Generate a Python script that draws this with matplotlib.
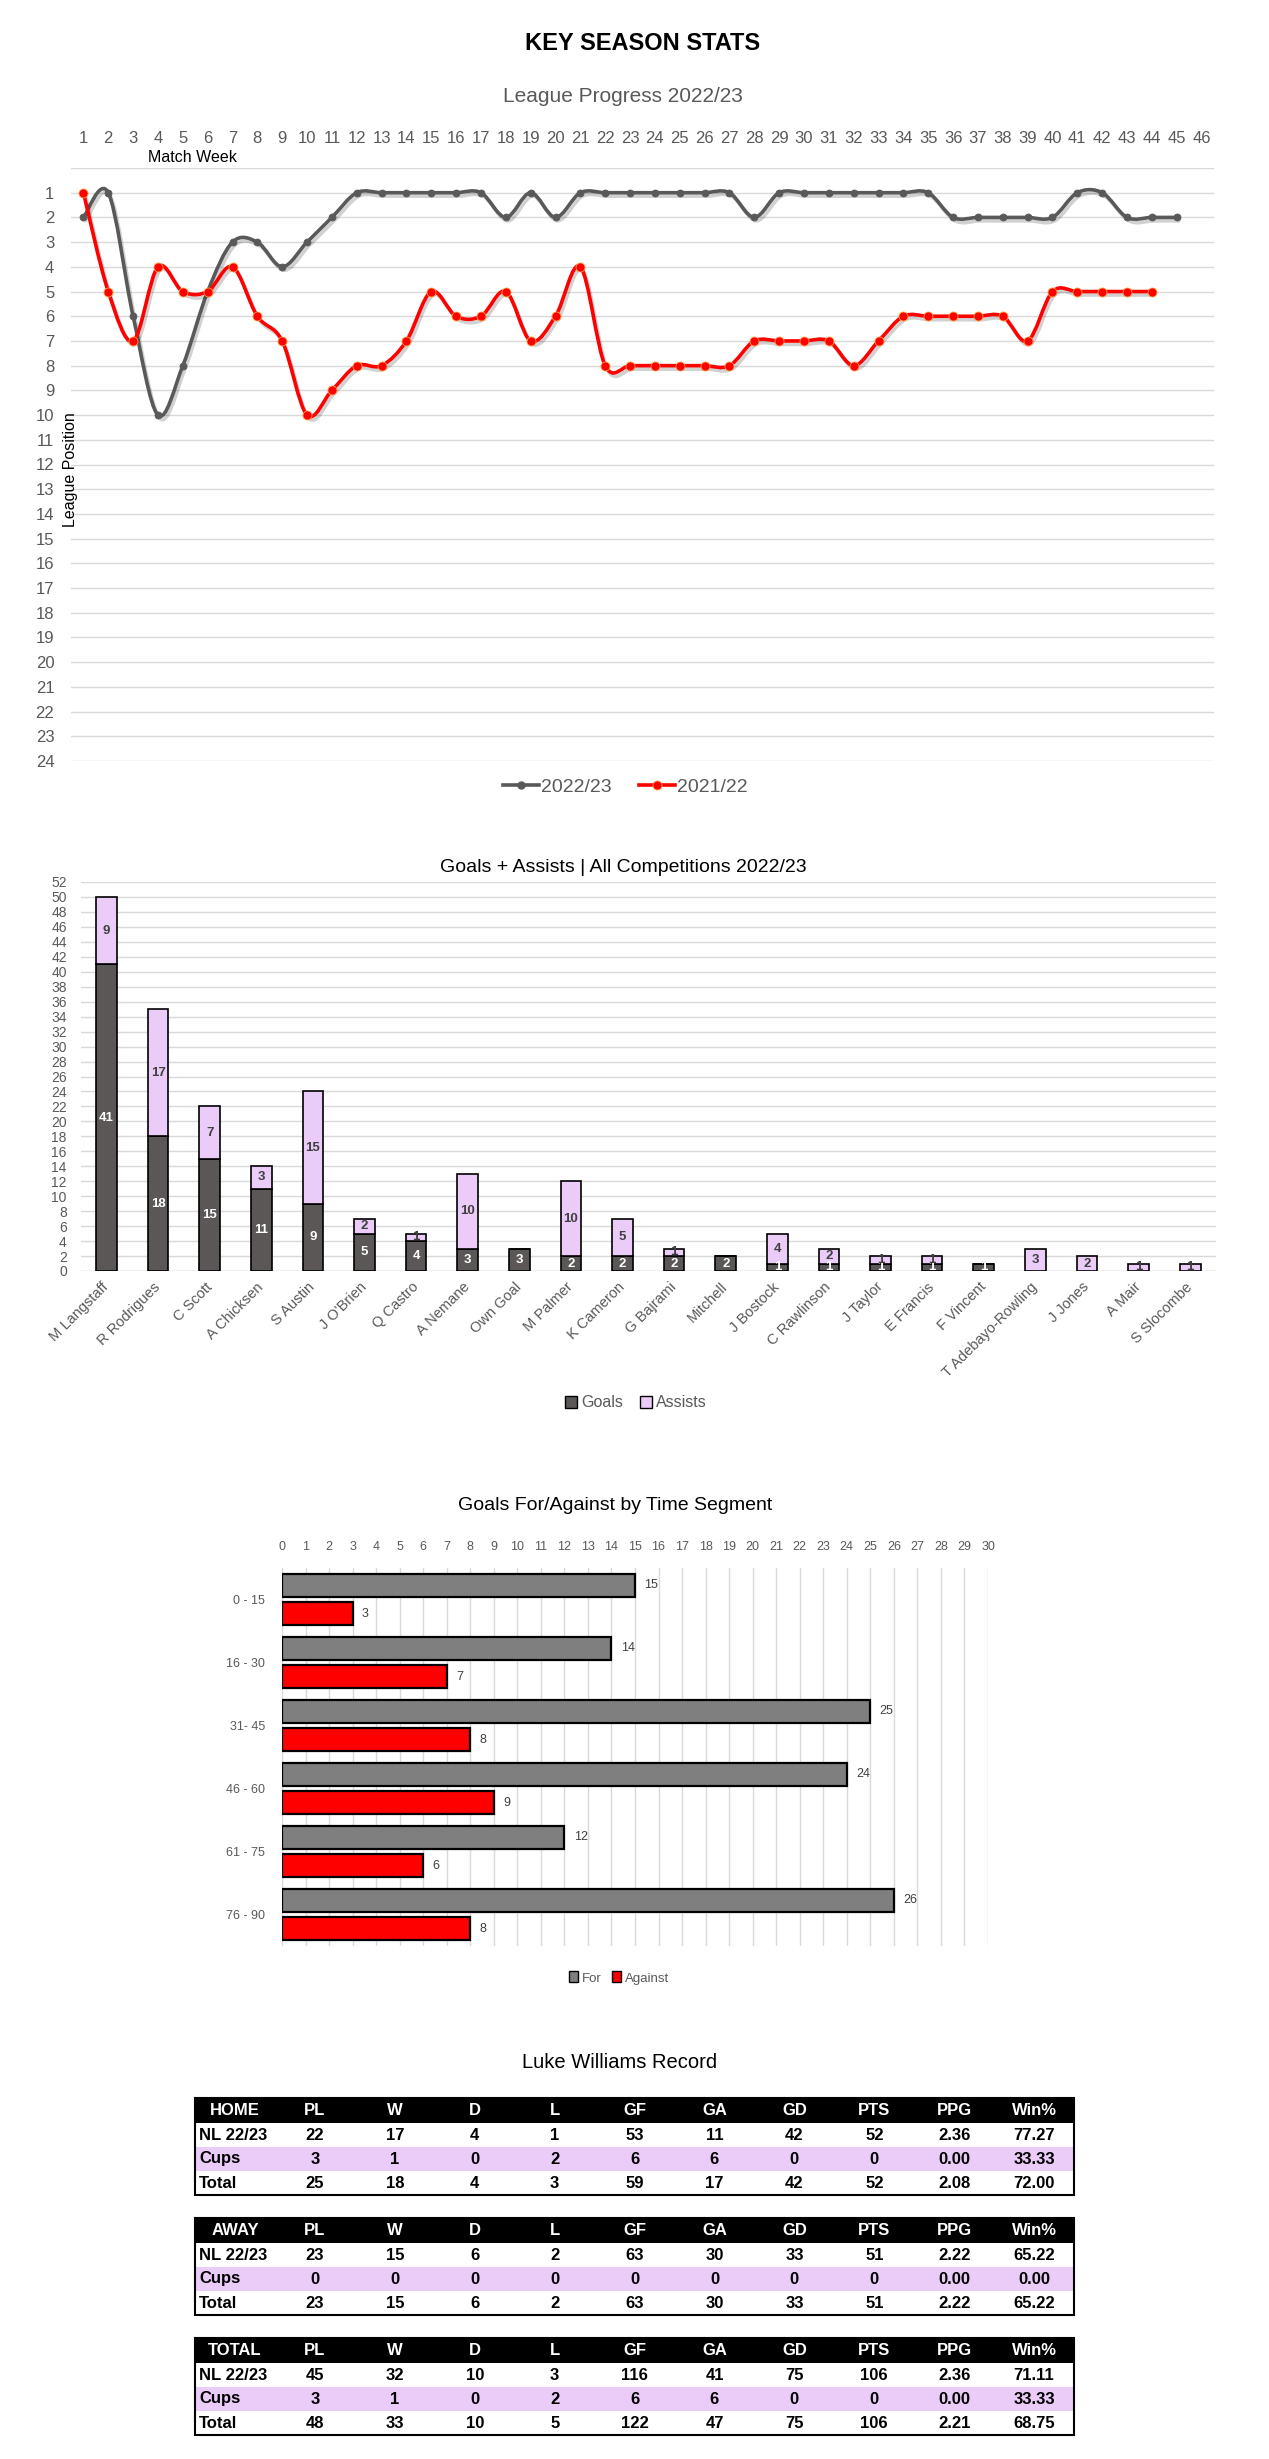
"""Key season stats dashboard: league progress, goals+assists, time segments, manager record."""

import matplotlib.pyplot as plt
import matplotlib.patheffects as pe
from matplotlib.lines import Line2D
from matplotlib.patches import Patch, Rectangle, PathPatch
from matplotlib.path import Path
import numpy as np

plt.rcParams["font.family"] = ["Liberation Sans", "DejaVu Sans"]

W, H = 1269, 2459
GREY_TXT = "#595959"

# ---- league progress ----
weeks_2223 = list(range(1, 46))
pos_2223 = [2, 1, 6, 10, 8, 5, 3, 3, 4, 3, 2, 1, 1, 1, 1, 1, 1, 2, 1, 2, 1, 1, 1,
            1, 1, 1, 1, 2, 1, 1, 1, 1, 1, 1, 1, 2, 2, 2, 2, 2, 1, 1, 2, 2, 2]
weeks_2122 = list(range(1, 45))
pos_2122 = [1, 5, 7, 4, 5, 5, 4, 6, 7, 10, 9, 8, 8, 7, 5, 6, 6, 5, 7, 6, 4, 8, 8,
            8, 8, 8, 8, 7, 7, 7, 7, 8, 7, 6, 6, 6, 6, 6, 7, 5, 5, 5, 5, 5]

# ---- goals + assists ----
players = ["M Langstaff", "R Rodrigues", "C Scott", "A Chicksen", "S Austin",
           "J O'Brien", "Q Castro", "A Nemane", "Own Goal", "M Palmer",
           "K Cameron", "G Bajrami", "Mitchell", "J Bostock", "C Rawlinson",
           "J Taylor", "E Francis", "F Vincent", "T Adebayo-Rowling", "J Jones",
           "A Mair", "S Slocombe"]
goals = [41, 18, 15, 11, 9, 5, 4, 3, 3, 2, 2, 2, 2, 1, 1, 1, 1, 1, 0, 0, 0, 0]
assists = [9, 17, 7, 3, 15, 2, 1, 10, 0, 10, 5, 1, 0, 4, 2, 1, 1, 0, 3, 2, 1, 1]

# ---- time segments ----
segments = ["0 - 15", "16 - 30", "31- 45", "46 - 60", "61 - 75", "76 - 90"]
goals_for = [15, 14, 25, 24, 12, 26]
goals_against = [3, 7, 8, 9, 6, 8]

# ---- record tables ----
rec_cols = ["PL", "W", "D", "L", "GF", "GA", "GD", "PTS", "PPG", "Win%"]
rec_rows = ["NL 22/23", "Cups", "Total"]
home_rec = [[22, 17, 4, 1, 53, 11, 42, 52, 2.36, 77.27],
            [3, 1, 0, 2, 6, 6, 0, 0, 0.00, 33.33],
            [25, 18, 4, 3, 59, 17, 42, 52, 2.08, 72.00]]
away_rec = [[23, 15, 6, 2, 63, 30, 33, 51, 2.22, 65.22],
            [0, 0, 0, 0, 0, 0, 0, 0, 0.00, 0.00],
            [23, 15, 6, 2, 63, 30, 33, 51, 2.22, 65.22]]
total_rec = [[45, 32, 10, 3, 116, 41, 75, 106, 2.36, 71.11],
             [3, 1, 0, 2, 6, 6, 0, 0, 0.00, 33.33],
             [48, 33, 10, 5, 122, 47, 75, 106, 2.21, 68.75]]


def px_axes(fig, left, top, right, bottom):
    return fig.add_axes([left / W, 1 - bottom / H, (right - left) / W, (bottom - top) / H])


def ftext(fig, x, y, s, **kw):
    fig.text(x / W, 1 - y / H, s, **kw)


def smooth_path(xs, ys):
    # Catmull-Rom through the data points, as Bezier segments (like Excel's smoothed line)
    pts = np.column_stack([xs, ys]).astype(float)
    ext = np.vstack([pts[0], pts, pts[-1]])
    verts = [pts[0]]
    codes = [Path.MOVETO]
    for i in range(1, len(ext) - 2):
        p0, p1, p2, p3 = ext[i - 1], ext[i], ext[i + 1], ext[i + 2]
        verts += [p1 + (p2 - p0) / 6, p2 - (p3 - p1) / 6, p2]
        codes += [Path.CURVE4] * 3
    return Path(verts, codes)


def league_chart(fig):
    ax = px_axes(fig, 71, 168, 1214, 761)
    shadow = [pe.SimpleLineShadow(offset=(1.5, -2.5), alpha=0.18), pe.Normal()]
    for xs, ys, col, ms, mec in [(weeks_2223, pos_2223, "#595959", 5, "#595959"),
                                 (weeks_2122, pos_2122, "#FF0000", 6.5, "#FFA040")]:
        patch = PathPatch(smooth_path(xs, ys), fill=False, ec=col, lw=2.6,
                          capstyle="round", joinstyle="round", zorder=3)
        patch.set_path_effects(shadow)
        ax.add_patch(patch)
        ax.plot(xs, ys, "o", ms=ms, color=col, mec=mec, mew=0.6, zorder=4)
    ax.set_xlim(0.5, 46.5)
    ax.set_ylim(24, 0)
    ax.set_yticks(range(0, 25))
    ax.set_yticklabels([""] + [str(i) for i in range(1, 25)])
    ax.xaxis.tick_top()
    ax.set_xticks(range(1, 47))
    ax.tick_params(axis="x", length=0, pad=16, labelsize=12, labelcolor=GREY_TXT)
    ax.tick_params(axis="y", length=0, pad=12, labelsize=12, labelcolor=GREY_TXT)
    ax.grid(axis="y", color="#D9D9D9", lw=1)
    ax.set_axisbelow(True)
    for s in ax.spines.values():
        s.set_visible(False)
    ftext(fig, 192, 157, "Match Week", ha="center", va="center", fontsize=11.5)
    ftext(fig, 71, 470, "League Position", ha="center", va="center",
          rotation=90, fontsize=11.5)
    handles = [Line2D([], [], color="#595959", lw=2.6, marker="o", ms=5),
               Line2D([], [], color="#FF0000", lw=2.6, marker="o", ms=6.5,
                      mec="#FFA040", mew=0.6)]
    fig.legend(handles, ["2022/23", "2021/22"], loc="center", ncol=2,
               bbox_to_anchor=(625 / W, 1 - 787 / H), frameon=False,
               fontsize=14, labelcolor=GREY_TXT, handlelength=1.85,
               handletextpad=0.1, columnspacing=1.4)
    ftext(fig, 623, 97, "League Progress 2022/23", ha="center", va="center",
          fontsize=15, color=GREY_TXT)


def goals_chart(fig):
    ax = px_axes(fig, 80.7, 882, 1216, 1271)
    x = np.arange(len(players))
    ax.bar(x, goals, 0.4, color="#5B5756", ec="black", lw=1.2, zorder=3)
    ax.bar(x, assists, 0.4, bottom=goals, color="#EBCBF8", ec="black", lw=1.2, zorder=3)
    for i, (g, a) in enumerate(zip(goals, assists)):
        if g:
            ax.text(i, g / 2, str(g), ha="center", va="center", color="white",
                    fontsize=9.5, fontweight="bold", zorder=4)
        if a:
            ax.text(i, g + a / 2, str(a), ha="center", va="center", color="#404040",
                    fontsize=9.5, fontweight="bold", zorder=4)
    ax.set_xlim(-0.5, len(players) - 0.5)
    ax.set_ylim(0, 52)
    ax.set_yticks(range(0, 53, 2))
    ax.set_xticks(x)
    ax.set_xticklabels(players, rotation=45, ha="right", va="center",
                       rotation_mode="anchor")
    ax.tick_params(axis="x", length=0, pad=10, labelsize=10.5, labelcolor=GREY_TXT)
    ax.tick_params(axis="y", length=0, pad=10, labelsize=10, labelcolor=GREY_TXT)
    ax.grid(axis="y", color="#D9D9D9", lw=1)
    ax.set_axisbelow(True)
    for s in ax.spines.values():
        s.set_visible(False)
    ax.axhline(0, color="#D9D9D9", lw=1, zorder=1)
    handles = [Patch(fc="#5B5756", ec="black"), Patch(fc="#EBCBF8", ec="black")]
    fig.legend(handles, ["Goals", "Assists"], loc="center", ncol=2,
               bbox_to_anchor=(636 / W, 1 - 1403 / H), frameon=False,
               fontsize=11.5, labelcolor=GREY_TXT, handlelength=0.75,
               handleheight=0.75, handletextpad=0.3, columnspacing=1.0)
    ftext(fig, 623, 867, "Goals + Assists | All Competitions 2022/23",
          ha="center", va="center", fontsize=14)


def segment_chart(fig):
    ax = px_axes(fig, 282, 1568, 988, 1946)
    y = np.arange(len(segments))
    ax.barh(y - 0.225, goals_for, 0.365, color="#7F7F7F", ec="black", lw=1.6, zorder=3)
    ax.barh(y + 0.225, goals_against, 0.365, color="#FF0000", ec="black", lw=1.6, zorder=3)
    for i in range(len(segments)):
        ax.text(goals_for[i] + 0.4, i - 0.225, str(goals_for[i]), va="center",
                fontsize=9, color="#404040")
        ax.text(goals_against[i] + 0.4, i + 0.225, str(goals_against[i]), va="center",
                fontsize=9, color="#404040")
    ax.set_xlim(0, 30)
    ax.set_ylim(len(segments) - 0.5, -0.5)
    ax.xaxis.tick_top()
    ax.set_xticks(range(0, 31))
    ax.set_yticks(y)
    ax.set_yticklabels(segments)
    ax.tick_params(axis="x", length=0, pad=11, labelsize=9, labelcolor=GREY_TXT)
    ax.tick_params(axis="y", length=0, pad=12, labelsize=9, labelcolor=GREY_TXT)
    ax.grid(axis="x", color="#D9D9D9", lw=1)
    ax.set_axisbelow(True)
    for s in ax.spines.values():
        s.set_visible(False)
    handles = [Patch(fc="#7F7F7F", ec="black"), Patch(fc="#FF0000", ec="black")]
    fig.legend(handles, ["For", "Against"], loc="center", ncol=2,
               bbox_to_anchor=(619 / W, 1 - 1978 / H), frameon=False,
               fontsize=9.5, labelcolor=GREY_TXT, handlelength=0.7,
               handleheight=0.9, handletextpad=0.3, columnspacing=0.8)
    ftext(fig, 615, 1505, "Goals For/Against by Time Segment",
          ha="center", va="center", fontsize=14)


def record_tables(fig):
    ax = fig.add_axes([0, 0, 1, 1])
    ax.set_xlim(0, W)
    ax.set_ylim(H, 0)
    ax.axis("off")
    left, right = 195, 1074
    col_x = [315 + 79.9 * i for i in range(len(rec_cols))]
    for top, name, rec in [(2098, "HOME", home_rec), (2218, "AWAY", away_rec),
                           (2338, "TOTAL", total_rec)]:
        ax.add_patch(Rectangle((left, top), right - left, 25, fc="black", ec="none"))
        ax.text(235, top + 12.5, name, ha="center", va="center", color="white",
                fontsize=12, fontweight="bold")
        for cx, c in zip(col_x, rec_cols):
            ax.text(cx, top + 12.5, c, ha="center", va="center", color="white",
                    fontsize=12, fontweight="bold")
        y0 = top + 25
        for r, (label, vals) in enumerate(zip(rec_rows, rec)):
            ry = y0 + r * 24
            if label == "Cups":
                ax.add_patch(Rectangle((left, ry), right - left, 24, fc="#EBCBF8", ec="none"))
            ax.text(199, ry + 12, label, ha="left", va="center",
                    fontsize=12, fontweight="bold")
            for j, (cx, v) in enumerate(zip(col_x, vals)):
                s = f"{v:.2f}" if j >= 8 else str(v)
                ax.text(cx, ry + 12, s, ha="center", va="center",
                        fontsize=12, fontweight="bold")
        ax.add_patch(Rectangle((left, top), right - left, 25 + 3 * 24, fill=False,
                               ec="black", lw=1.5))
    ax.text(620, 2062, "Luke Williams Record", ha="center", va="center", fontsize=14.5)


def main():
    fig = plt.figure(figsize=(W / 100, H / 100), dpi=100)
    ftext(fig, 643, 44, "KEY SEASON STATS", ha="center", va="center",
          fontsize=17, fontweight="bold")
    league_chart(fig)
    goals_chart(fig)
    segment_chart(fig)
    record_tables(fig)
    fig.savefig("out.png", dpi=100)


if __name__ == "__main__":
    main()
